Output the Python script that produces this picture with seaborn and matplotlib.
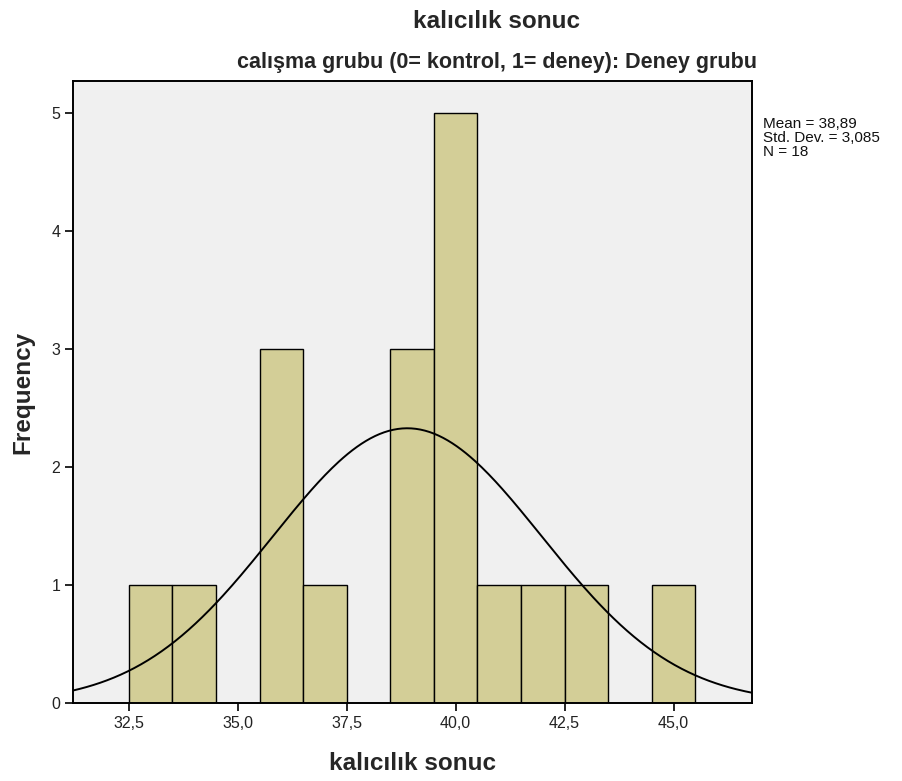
import numpy as np
import pandas as pd
import matplotlib
matplotlib.use("Agg")
import matplotlib.pyplot as plt
import seaborn as sns

# Data (bin centres and frequencies)
values = [33, 34, 36, 37, 39, 40, 41, 42, 43, 45]
counts = [1, 1, 3, 1, 3, 5, 1, 1, 1, 1]
x_ticks = [32.5, 35.0, 37.5, 40.0, 42.5, 45.0]
x_tick_labels = ["32,5", "35,0", "37,5", "40,0", "42,5", "45,0"]
y_ticks = [0, 1, 2, 3, 4, 5]
mean_val = 38.89
sd_val = 3.085
n_val = 18

sns.set_theme(style="white")
plt.rcParams['font.family'] = ['Liberation Sans', 'DejaVu Sans']

W, H = 903, 781
fig = plt.figure(figsize=(W / 100, H / 100), dpi=100)
ax = fig.add_axes([73/W, 78/H, (752-73)/W, 622/H])
ax.set_facecolor("#F0F0F0")

df = pd.DataFrame({"val": values, "n": counts})
sns.histplot(data=df, x="val", weights="n", binwidth=1, binrange=(32.5, 45.5),
             color="#D3CE97", edgecolor="black", linewidth=1.0, alpha=1.0, ax=ax)

xlim = (31.22, 46.8)
xs = np.linspace(xlim[0], xlim[1], 300)
ys = n_val * 1.0 / (sd_val * np.sqrt(2 * np.pi)) * np.exp(-0.5 * ((xs - mean_val) / sd_val) ** 2)
sns.lineplot(x=xs, y=ys, color="black", linewidth=1.4, ax=ax)

ax.set_xlim(*xlim)
ax.set_ylim(0, 5.27)
ax.set_xticks(x_ticks)
ax.set_xticklabels(x_tick_labels)
ax.set_yticks(y_ticks)
ax.set_yticklabels([str(t) for t in y_ticks])
ax.tick_params(axis="both", direction="out", length=6, width=1.2, color="black",
               labelsize=11.5, labelcolor="#222222", bottom=True, left=True, pad=3)
for s in ax.spines.values():
    s.set_color("black")
    s.set_linewidth(1.4)

ax.set_xlabel("kalıcılık sonuc", fontsize=17.5, fontweight="bold")
ax.set_ylabel("Frequency", fontsize=17.5, fontweight="bold")
ax.xaxis.set_label_coords(0.5, -(763 - 703) / 622)
ax.xaxis.label.set_verticalalignment("center")
ax.yaxis.set_label_coords(-(73 - 23) / 679, 0.5)
ax.yaxis.label.set_verticalalignment("center")

fig.text(497/W, 1 - 28/H, "kalıcılık sonuc", ha="center", va="baseline",
         fontsize=17.5, fontweight="bold")
fig.text(497/W, 1 - 68/H, "calışma grubu (0= kontrol, 1= deney): Deney grubu",
         ha="center", va="baseline", fontsize=15.5, fontweight="bold")
fig.text(763/W, 1 - 117/H,
         "Mean = 38,89\nStd. Dev. = 3,085\nN = 18",
         ha="left", va="top", fontsize=11, linespacing=1.0, color="#111111")

fig.savefig("out.png", dpi=100, facecolor="white")
